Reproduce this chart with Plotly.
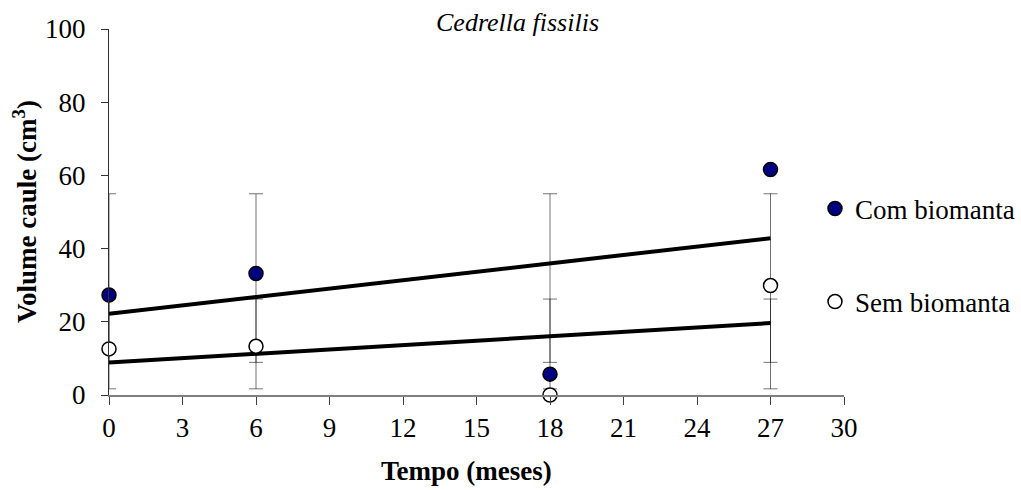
import numpy as np
import plotly.graph_objects as go

# Stem volume (cm³) of Cedrella fissilis over time, with and without biomanta
tempo = [0, 6, 18, 27]
com_biomanta = [27.3, 33.2, 5.7, 61.6]
sem_biomanta = [12.6, 13.3, 0.0, 29.9]
x_ticks = [0, 3, 6, 9, 12, 15, 18, 21, 24, 27, 30]
y_ticks = [0, 20, 40, 60, 80, 100]

FONT = "Liberation Serif"
NAVY = "#000080"

fig = go.Figure()

# Spreadsheet-style standard-deviation bars: centred on the series mean, ±1 SD
for vals in (com_biomanta, sem_biomanta):
    arr = np.array(vals)
    mean, sd = arr.mean(), arr.std(ddof=1)
    fig.add_trace(go.Scatter(
        x=tempo, y=[mean] * len(tempo), mode="markers",
        marker=dict(size=1, color="rgba(0,0,0,0)"),
        error_y=dict(type="data", array=[sd] * len(tempo), symmetric=True,
                     color="rgba(0,0,0,0.55)", thickness=1, width=7),
        showlegend=False, hoverinfo="skip", cliponaxis=False,
    ))

# Linear trend lines
for vals in (com_biomanta, sem_biomanta):
    slope, intercept = np.polyfit(tempo, vals, 1)
    xs = [min(tempo), max(tempo)]
    fig.add_trace(go.Scatter(
        x=xs, y=[intercept + slope * v for v in xs], mode="lines",
        line=dict(color="black", width=4), showlegend=False, hoverinfo="skip",
    ))

fig.add_trace(go.Scatter(
    x=tempo, y=com_biomanta, mode="markers", name="Com biomanta",
    marker=dict(size=14, color=NAVY, line=dict(color="black", width=1.5)),
    cliponaxis=False, legend="legend",
))
fig.add_trace(go.Scatter(
    x=tempo, y=sem_biomanta, mode="markers", name="Sem biomanta",
    marker=dict(size=14, color="white", line=dict(color="black", width=1.5)),
    cliponaxis=False, legend="legend2",
))

W, H = 1021, 490
legend_common = dict(xref="container", yref="container", xanchor="left",
                     yanchor="middle", font=dict(family=FONT, size=27, color="black"),
                     bgcolor="rgba(0,0,0,0)", itemwidth=30)

fig.update_layout(
    width=W, height=H,
    margin=dict(l=109, r=177, t=29, b=95, autoexpand=False),
    paper_bgcolor="white", plot_bgcolor="white",
    font=dict(family=FONT, size=27, color="black"),
    showlegend=True,
    legend=dict(x=815 / W, y=1 - 209 / H, **legend_common),
    legend2=dict(x=815 / W, y=1 - 302 / H, **legend_common),
    xaxis=dict(
        range=[0, 30], tickvals=x_ticks, ticktext=[str(v) for v in x_ticks],
        showgrid=False, zeroline=False, showline=True, linecolor="#808080",
        linewidth=2, ticks="outside", ticklen=8, tickcolor="#404040",
        tickfont=dict(family=FONT, size=27, color="black"),
    ),
    yaxis=dict(
        range=[0, 100], tickvals=y_ticks, ticktext=[str(v) for v in y_ticks],
        showgrid=False, zeroline=False, showline=True, linecolor="#303030",
        linewidth=1, ticks="outside", ticklen=7, tickcolor="#303030",
        ticklabelstandoff=10,
        tickfont=dict(family=FONT, size=27, color="black"),
    ),
    annotations=[
        dict(text="<i>Cedrella fissilis</i>", xref="paper", yref="paper",
             x=(517 - 109) / 735, y=(395 - 22) / 366, showarrow=False,
             xanchor="center", yanchor="middle",
             font=dict(family=FONT, size=26, color="black")),
        dict(text="<b>Tempo (meses)</b>", xref="paper", yref="paper",
             x=(466 - 109) / 735, y=(395 - 471) / 366, showarrow=False,
             xanchor="center", yanchor="middle",
             font=dict(family=FONT, size=27, color="black")),
        dict(text="<b>Volume caule (cm<sup>3</sup>)</b>", xref="paper", yref="paper",
             x=(25 - 109) / 735, y=0.5, showarrow=False, textangle=-90,
             xanchor="center", yanchor="middle",
             font=dict(family=FONT, size=27, color="black")),
    ],
)

fig.write_html("out.html")
